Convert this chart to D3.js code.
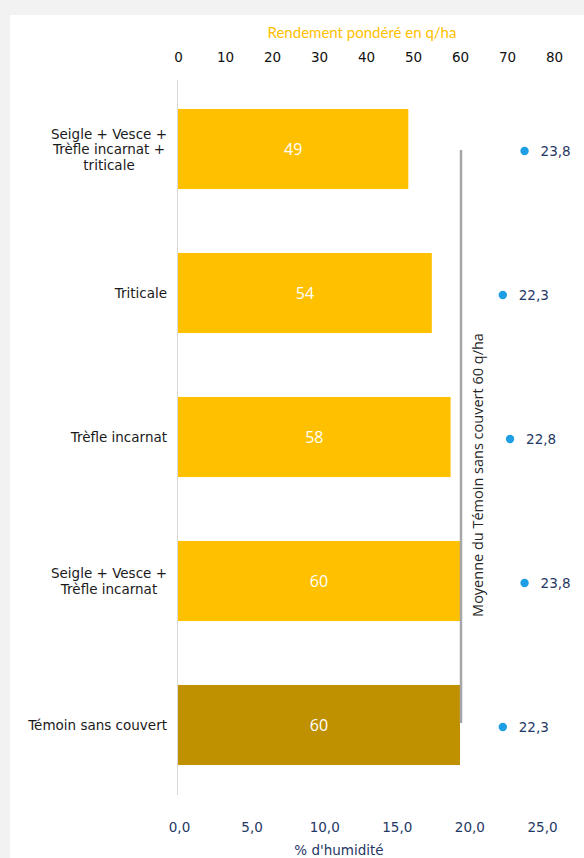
<!DOCTYPE html>
<html><head><meta charset="utf-8">
<script src="https://cdn.jsdelivr.net/npm/d3@7"></script>
<style>body{margin:0;background:#f2f2f2;}svg{display:block;}</style>
</head><body>
<svg id="c" width="584" height="858"></svg>
<script>
const categories = [
  ["Seigle + Vesce +","Trèfle incarnat +","triticale"],
  ["Triticale"],
  ["Trèfle incarnat"],
  ["Seigle + Vesce +","Trèfle incarnat"],
  ["Témoin sans couvert"]
];
const yieldValues = [49, 54, 58, 60, 60];
const humidityValues = [23.8, 22.3, 22.8, 23.8, 22.3];
const barColors = ["#FFC000","#FFC000","#FFC000","#FFC000","#BF9000"];
const topTicks = [0,10,20,30,40,50,60,70,80];
const bottomTicks = [0,5,10,15,20,25];
const referenceValue = 60;
const referenceLabel = "Moyenne du Témoin sans couvert 60 q/ha";

const svg = d3.select("#c");
svg.append("rect").attr("x",10).attr("y",15).attr("width",574).attr("height",843).attr("fill","#fff");

const x = d3.scaleLinear().domain([0,80]).range([178,554]);
const xh = d3.scaleLinear().domain([0,25]).range([179,542]);
const idx = categories.map((d,i)=>i);
const y = d3.scaleBand().domain(idx).range([77,797]).paddingInner(0.444).paddingOuter(0.222);
const sans = "DejaVu Sans, Verdana, sans-serif";

svg.append("line").attr("x1",177.5).attr("x2",177.5).attr("y1",80).attr("y2",795)
  .attr("stroke","#d9d9d9").attr("stroke-width",1);

const topAxis = d3.axisTop(x).tickValues(topTicks).tickSize(0).tickPadding(0).tickFormat(d3.format("d"));
const gt = svg.append("g").attr("transform","translate(0,62)").call(topAxis);
gt.select(".domain").remove();
gt.selectAll("text").attr("fill","#111").style("font-family",sans).style("font-size","13.5px");
svg.append("text").attr("x",362).attr("y",38).attr("text-anchor","middle")
  .attr("fill","#FFC000").style("font-family","Lato, Open Sans, sans-serif").style("font-size","15px")
  .text("Rendement pondéré en q/ha");

const botAxis = d3.axisBottom(xh).tickValues(bottomTicks).tickSize(0).tickPadding(0)
  .tickFormat(d=>d3.format(".1f")(d).replace(".",","));
const gb = svg.append("g").attr("transform","translate(0,822)").call(botAxis);
gb.select(".domain").remove();
gb.selectAll("text").attr("fill","#1F3864").style("font-family",sans).style("font-size","13.5px");
svg.append("text").attr("x",339).attr("y",855).attr("text-anchor","middle")
  .attr("fill","#1F3864").style("font-family",sans).style("font-size","13.5px")
  .text("% d'humidité");

svg.selectAll("rect.bar").data(yieldValues).join("rect").attr("class","bar")
  .attr("x",x(0)).attr("y",(d,i)=>y(i)).attr("width",d=>x(d)-x(0)).attr("height",y.bandwidth())
  .attr("fill",(d,i)=>barColors[i]);

svg.selectAll("text.val").data(yieldValues).join("text").attr("class","val")
  .attr("x",d=>(x(d)+x(0))/2).attr("y",(d,i)=>y(i)+y.bandwidth()/2+6).attr("text-anchor","middle")
  .attr("fill","#fff").style("font-family","Open Sans, sans-serif").style("font-size","16px")
  .text(d=>d);

categories.forEach((lines,i)=>{
  const cy = y(i)+y.bandwidth()/2;
  const lh = 15.5;
  const g = svg.append("g");
  const ts = lines.map((l,j)=>g.append("text")
    .attr("y",cy + (j-(lines.length-1)/2)*lh + 5)
    .attr("fill","#1a1a1a").style("font-family",sans).style("font-size","13.5px")
    .attr("text-anchor","middle").text(l));
  const w = d3.max(ts,t=>t.node().getComputedTextLength());
  ts.forEach(t=>t.attr("x",167-w/2));
});

svg.append("line").attr("x1",x(referenceValue)+1).attr("x2",x(referenceValue)+1).attr("y1",150).attr("y2",723)
  .attr("stroke","#A6A6A6").attr("stroke-width",2.5);
svg.append("text").attr("transform",`translate(${x(referenceValue)+23},475) rotate(-90)`)
  .attr("text-anchor","middle").attr("fill","#262626")
  .style("font-family","Open Sans, sans-serif").style("font-size","14.5px")
  .text(referenceLabel);

svg.selectAll("circle.h").data(humidityValues).join("circle").attr("class","h")
  .attr("cx",d=>xh(d)).attr("cy",(d,i)=>y(i)+y.bandwidth()/2+2).attr("r",4.2).attr("fill","#1E9FE3");
svg.selectAll("text.h").data(humidityValues).join("text").attr("class","h")
  .attr("x",d=>xh(d)+16).attr("y",(d,i)=>y(i)+y.bandwidth()/2+7)
  .attr("fill","#1F3864").style("font-family",sans).style("font-size","13.5px")
  .text(d=>d3.format(".1f")(d).replace(".",","));
</script>
</body></html>
